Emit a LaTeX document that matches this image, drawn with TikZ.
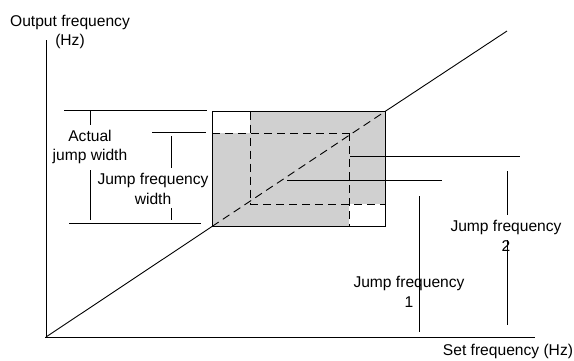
\documentclass[tikz,border=0pt]{standalone}
\usepackage{fontspec}
\setmainfont{Liberation Sans}
\definecolor{boxgray}{RGB}{208,208,208}
\begin{document}
\begin{tikzpicture}[x=1pt,y=-1pt,line width=0.9pt,
  lbl/.style={font=\fontsize{15.6}{19.5}\selectfont,align=center,inner sep=0pt},
  dsh/.style={dash pattern=on 8pt off 5pt}]
\useasboundingbox (0,0) rectangle (574,360);
% key points
\coordinate (O) at (46,337);
\coordinate (E) at (507,31);
\coordinate (BL) at (212,226.5);
\coordinate (TR) at (385,111.5);
\coordinate (TL) at (212,111.5);
\coordinate (BR) at (385,226.5);
% gray region with white corners
\fill[boxgray] (TL) rectangle (BR);
\fill[white] (212,111.5) rectangle (250,133);
\fill[white] (349,204) rectangle (385,226.5);
% dashed inner lines
\draw[dsh] (212,133) -- (349,133);
\draw[dsh] (250,204) -- (385,204);
\draw[dsh] (250,111.5) -- (250,204);
\draw[dsh] (349,133) -- (349,226.5);
% diagonal
\draw (O) -- (BL);
\draw[dsh] (BL) -- (TR);
\draw (TR) -- (E);
% box outline
\draw (TL) rectangle (BR);
% axes
\draw (46,40) -- (O);
\draw (45,337) -- (535,337);
% left leaders
\draw (64,110) -- (207,110);
\draw (152,132) -- (206,132);
\draw (69,223) -- (201,223);
\draw (90,111) -- (90,125);
\draw (90,170) -- (90,220);
\draw (171.7,136) -- (171.7,168);
\draw (171.7,208) -- (171.7,220);
% right leaders
\draw (350,156) -- (520,156);
\draw (287,180) -- (442,180);
\draw (419,196) -- (419,332);
\draw (507,171) -- (507,215);
\draw (507,240) -- (507,325);
% labels
\node[lbl] (ylab) at (70,32) {Output frequency\\(Hz)};
\node[lbl] (xlab) at (508,351) {Set frequency (Hz)};
\node[lbl] (ajw) at (90,147) {Actual\\jump width};
\node[lbl] (jfw) at (153,189) {Jump frequency\\width};
\node[lbl] (jf2) at (506,236) {Jump frequency\\2};
\node[lbl] (jf1) at (409,292) {Jump frequency\\1};
\end{tikzpicture}
\end{document}
